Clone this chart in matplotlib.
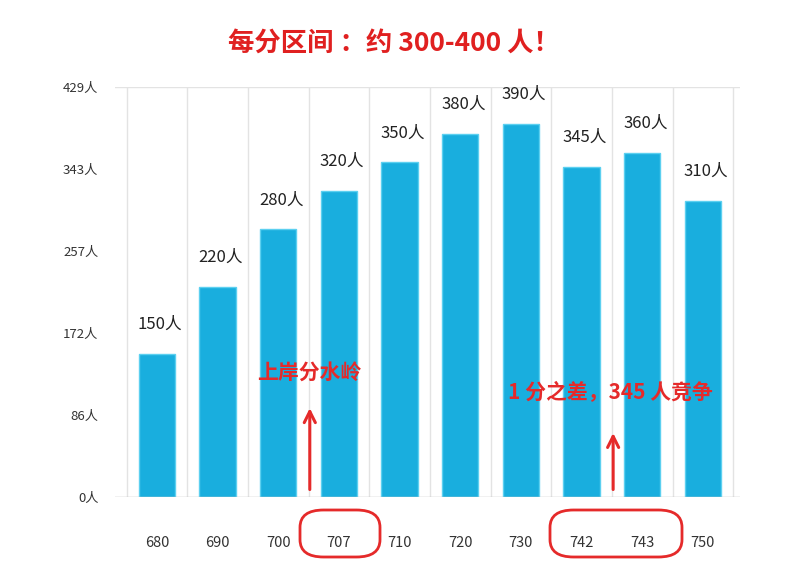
import matplotlib.pyplot as plt
from matplotlib.patches import FancyBboxPatch
import numpy as np

plt.rcParams['font.family'] = ['Noto Sans CJK SC', 'DejaVu Sans']

scores = ['680', '690', '700', '707', '710', '720', '730', '742', '743', '750']
counts = [150, 220, 280, 320, 350, 380, 390, 345, 360, 310]
yticks = [0, 86, 172, 257, 343, 429]

fig = plt.figure(figsize=(7.88, 5.76), dpi=100)
ax = fig.add_axes([0.146, 0.137, 0.793, 0.712])
x = np.arange(len(scores))

ax.bar(x, counts, width=0.6, color='#19aede', edgecolor='#5cd0f0', linewidth=1, zorder=3)
for i, c in enumerate(counts):
    ax.text(i + 0.05, c + 22, f'{c}人', ha='center', va='bottom', fontsize=12, color='#222222')

ax.set_xlim(-0.69, 9.61)
ax.set_ylim(0, 429)
ax.set_xticks(x)
ax.set_xticklabels(scores, fontsize=10.5, color='#333333', fontweight='medium')
ax.set_yticks(yticks)
ax.set_yticklabels([f'{v}人' for v in yticks], fontsize=9.5, color='#333333', fontweight='medium')
ax.set_xticks(np.arange(-0.5, 10, 1), minor=True)
ax.tick_params(which='both', length=0)
ax.tick_params(axis='x', pad=28)
ax.tick_params(axis='y', pad=12)
ax.grid(axis='x', which='minor', color='#e3e3e3', linewidth=1, zorder=0)
ax.axhline(429, color='#e3e3e3', linewidth=1, zorder=0)
for s in ax.spines.values():
    s.set_visible(False)
ax.axhline(0, color='#bbbbbb', linewidth=1, zorder=4)

fig.text(0.5, 0.925, '每分区间 ：约 300-400 人！', ha='center', va='center',
         fontsize=19, fontweight='bold', color='#e02020')

red = '#e52a2a'
ax.text(2.52, 131, '上岸分水岭', ha='center', va='center', fontsize=15,
        fontweight='bold', color=red, zorder=5)
ax.annotate('', xy=(2.52, 96), xytext=(2.52, 5), annotation_clip=False,
            arrowprops=dict(arrowstyle='->', color=red, lw=2.2, mutation_scale=20))
ax.text(7.47, 109, '1 分之差，345 人竞争', ha='center', va='center', fontsize=15,
        fontweight='bold', color=red, zorder=5)
ax.annotate('', xy=(7.52, 70), xytext=(7.52, 5), annotation_clip=False,
            arrowprops=dict(arrowstyle='->', color=red, lw=2.2, mutation_scale=20))

W, H = 788, 576
for x0, x1 in [(300, 380), (550, 682)]:
    fig.patches.append(FancyBboxPatch((x0 / W, 1 - 557 / H), (x1 - x0) / W, 47 / H,
                                      boxstyle='round,pad=0,rounding_size=0.03',
                                      transform=fig.transFigure, fill=False,
                                      edgecolor=red, linewidth=2))

fig.savefig('out.png', dpi=100)
